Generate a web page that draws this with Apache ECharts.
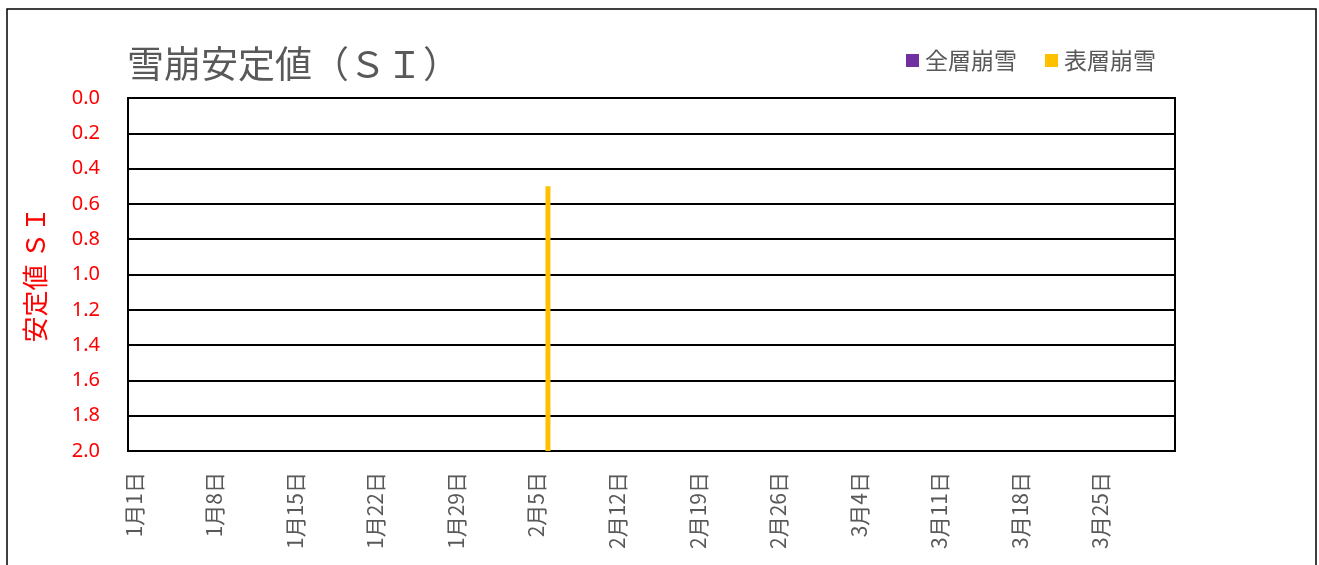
<!DOCTYPE html>
<html>
<head>
<meta charset="utf-8">
<script src="https://cdn.jsdelivr.net/npm/echarts@6/dist/echarts.min.js"></script>
<style>
  html, body { margin: 0; padding: 0; background: #fff; }
  #chart { width: 1319px; height: 565px; }
</style>
</head>
<body>
<div id="chart"></div>
<script>
// 日付カテゴリ（1月1日〜3月31日）
const monthDays = [31, 29, 31];
const categories = [];
monthDays.forEach((n, m) => {
  for (let d = 1; d <= n; d++) categories.push((m + 1) + "月" + d + "日");
});

// 雪崩安定値 SI（発生日, 値）
const fullDepth = [];                 // 全層崩雪
const surface = [["2月6日", 0.5]];     // 表層崩雪

const siMax = 2.0;

const colors = ["#7030A0", "#FFC000"];
const grey = "#595959";
const jpFont = "'Noto Sans CJK JP', sans-serif";

const chart = echarts.init(document.getElementById("chart"));

// 横軸(2.0)から値まで伸びる棒
function renderBar(params, api) {
  const top = api.coord([api.value(0), api.value(1)]);
  const base = api.coord([api.value(0), siMax]);
  const w = 5;
  return {
    type: "rect",
    shape: { x: top[0] - w / 2, y: top[1], width: w, height: base[1] - top[1] },
    style: { fill: api.visual("color") }
  };
}

const option = {
  animation: false,
  color: colors,
  textStyle: { fontFamily: jpFont },
  title: {
    text: "雪崩安定値（ＳＩ）",
    left: 122,
    top: 40,
    textStyle: { color: grey, fontSize: 37, fontWeight: "normal", fontFamily: jpFont }
  },
  legend: {
    right: 158,
    top: 44,
    icon: "rect",
    itemWidth: 13,
    itemHeight: 13,
    itemGap: 28,
    textStyle: { color: grey, fontSize: 23, padding: [0, 0, 0, 1] },
    data: ["全層崩雪", "表層崩雪"]
  },
  grid: {
    left: 128,
    right: 144,
    top: 98,
    bottom: 114,
    show: true,
    borderColor: "#000",
    borderWidth: 2
  },
  xAxis: {
    type: "category",
    data: categories,
    boundaryGap: true,
    axisLine: { lineStyle: { color: "#000", width: 2 } },
    axisTick: { show: false },
    axisLabel: {
      interval: 6,
      rotate: 90,
      margin: 21,
      color: grey,
      fontSize: 21,
      fontFamily: jpFont
    }
  },
  yAxis: {
    type: "value",
    inverse: true,
    min: 0,
    max: siMax,
    interval: 0.2,
    name: "安定値 ＳＩ",
    nameLocation: "middle",
    nameRotate: 90,
    nameGap: 80,
    nameTextStyle: { color: "#FF0000", fontSize: 26, fontFamily: jpFont },
    axisLine: { show: true, lineStyle: { color: "#000", width: 2 } },
    axisTick: { show: false },
    axisLabel: {
      margin: 28,
      color: "#FF0000",
      fontSize: 20,
      fontFamily: "'Noto Sans', sans-serif",
      formatter: v => v.toFixed(1)
    },
    splitLine: { lineStyle: { color: "#000", width: 2 } }
  },
  graphic: [{
    type: "rect",
    shape: { x: 7, y: 9, width: 1309, height: 600 },
    style: { fill: "none", stroke: "#000", lineWidth: 1.5 },
    silent: true
  }],
  series: [
    {
      name: "全層崩雪",
      type: "custom",
      renderItem: renderBar,
      itemStyle: { color: colors[0] },
      encode: { x: 0, y: 1 },
      data: fullDepth
    },
    {
      name: "表層崩雪",
      type: "custom",
      renderItem: renderBar,
      itemStyle: { color: colors[1] },
      encode: { x: 0, y: 1 },
      data: surface
    }
  ]
};

chart.setOption(option);
</script>
</body>
</html>
